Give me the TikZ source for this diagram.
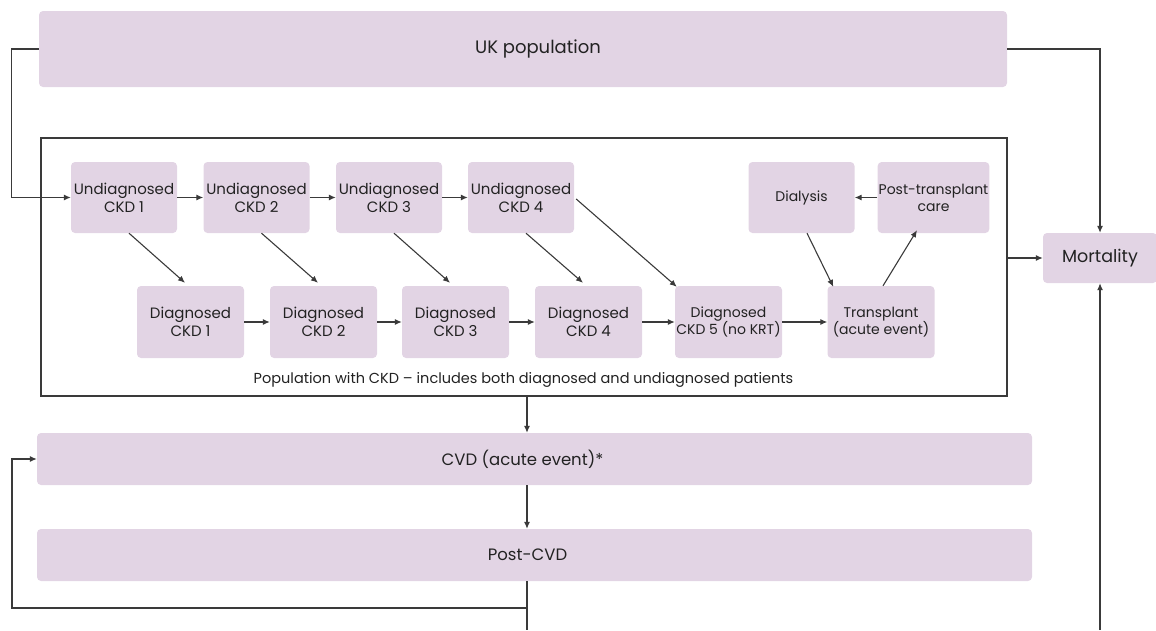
\documentclass[tikz,border=0pt]{standalone}
\usepackage{fontspec}
\setmainfont{Poppins}
\usetikzlibrary{arrows.meta,calc}
\definecolor{boxfill}{HTML}{E2D4E4}
\definecolor{linec}{HTML}{3A3A3A}
\definecolor{txtc}{HTML}{222222}
\begin{document}
\begin{tikzpicture}[x=1pt,y=-1pt,
  box/.style={fill=boxfill,draw=none,rounded corners=4pt,inner sep=1pt,align=center,text=txtc,font=\fontsize{14}{17}\selectfont},
  small/.style={box,minimum width=106pt,minimum height=71pt},
  big/.style={font=\fontsize{15}{18}\selectfont},
  wide/.style={box,minimum width=995pt,minimum height=52pt},
  line/.style={draw=linec,line width=1.1pt},
  arr/.style={line,-{Latex[length=7pt,width=6pt]}},
  frame/.style={draw=linec,line width=1.1pt,minimum width=966pt,minimum height=258pt,inner sep=0pt}
]
\useasboundingbox (0,0) rectangle (1156,630);
% main boxes
\node[box,minimum width=968pt,minimum height=76pt,label={[text=txtc,font=\fontsize{18}{20}\selectfont,xshift=15pt]center:UK population}] (uk) at (523,49) {};
\node[frame] (ckd) at (524,267) {};
\node[text=txtc,font=\fontsize{14.5}{16}\selectfont] (ckdlab) at (523.5,380) {Population with CKD -- includes both diagnosed and undiagnosed patients};
\node[box,minimum width=114pt,minimum height=50pt,font=\fontsize{17.5}{19}\selectfont] (mort) at (1100,258) {Mortality};
\node[wide,label={[text=txtc,font=\fontsize{16.5}{18}\selectfont,xshift=-12pt]center:CVD (acute event)*}] (cvd) at (534.5,459) {};
\node[wide,label={[text=txtc,font=\fontsize{16.5}{18}\selectfont,xshift=-7pt]center:Post-CVD}] (pcvd) at (534.5,555) {};
% undiagnosed row
\node[small,big] (u1) at (124,197.5) {Undiagnosed\\CKD 1};
\node[small,big] (u2) at (256.5,197.5) {Undiagnosed\\CKD 2};
\node[small,big] (u3) at (389,197.5) {Undiagnosed\\CKD 3};
\node[small,big] (u4) at (521,197.5) {Undiagnosed\\CKD 4};
\node[small] (dial) at (801.5,197.5) {Dialysis};
\node[small] (post) at (933.5,197.5) {Post-transplant\\care};
% diagnosed row
\node[small,big,minimum width=107pt,minimum height=72pt] (d1) at (190.5,322) {Diagnosed\\CKD 1};
\node[small,big,minimum width=107pt,minimum height=72pt] (d2) at (323.5,322) {Diagnosed\\CKD 2};
\node[small,big,minimum width=107pt,minimum height=72pt] (d3) at (455.5,322) {Diagnosed\\CKD 3};
\node[small,big,minimum width=107pt,minimum height=72pt] (d4) at (588.5,322) {Diagnosed\\CKD 4};
\node[small,minimum width=107pt,minimum height=72pt] (d5) at (728.5,322) {Diagnosed\\CKD 5 (no KRT)};
\node[small,minimum width=107pt,minimum height=72pt] (tr) at (881,322) {Transplant\\(acute event)};
% helper coordinates
\coordinate (spine) at (527,0);
\coordinate (bot) at (0,630);
\coordinate (loop) at (527,608);
\coordinate (mbot) at (1100,630);
% connectors
\draw[arr] (uk.west) -- ++(-27,0) |- (u1.west);
\draw[arr] (uk.east) -| (mort.north);
\draw[arr] (ckd.east |- mort.west) -- (mort.west);
\draw[arr] (mbot) -- (mort.south);
\draw[arr] (u1) -- (u2);
\draw[arr] (u2) -- (u3);
\draw[arr] (u3) -- (u4);
\draw[arr] (d1) -- (d2);
\draw[arr] (d2) -- (d3);
\draw[arr] (d3) -- (d4);
\draw[arr] (d4) -- (d5);
\draw[arr] (d5) -- (tr);
\draw[arr] ($(u1.south)+(5,0)$) -- ($(d1.north)+(-5.5,-3)$);
\draw[arr] ($(u2.south)+(5,0)$) -- ($(d2.north)+(-5.5,-3)$);
\draw[arr] ($(u3.south)+(5,0)$) -- ($(d3.north)+(-5.5,-3)$);
\draw[arr] ($(u4.south)+(5,0)$) -- ($(d4.north)+(-5.5,-3)$);
\draw[arr] ($(u4.east)+(2,1.5)$) -- ($(d5.north west)+(2,1)$);
\draw[arr] (post) -- (dial);
\draw[arr] ($(dial.south)+(5.5,0)$) -- ($(tr.north west)+(6,1)$);
\draw[arr] ($(tr.north)+(2,0)$) -- ($(post.south)+(-16.5,-3)$);
\draw[arr] (ckd.south -| spine) -- (cvd.north -| spine);
\draw[arr] (cvd.south -| spine) -- (pcvd.north -| spine);
\draw[line] (pcvd.south -| spine) -- (spine |- bot);
\draw[arr] (loop) -- ++(-515,0) |- (cvd.west);
\end{tikzpicture}
\end{document}
